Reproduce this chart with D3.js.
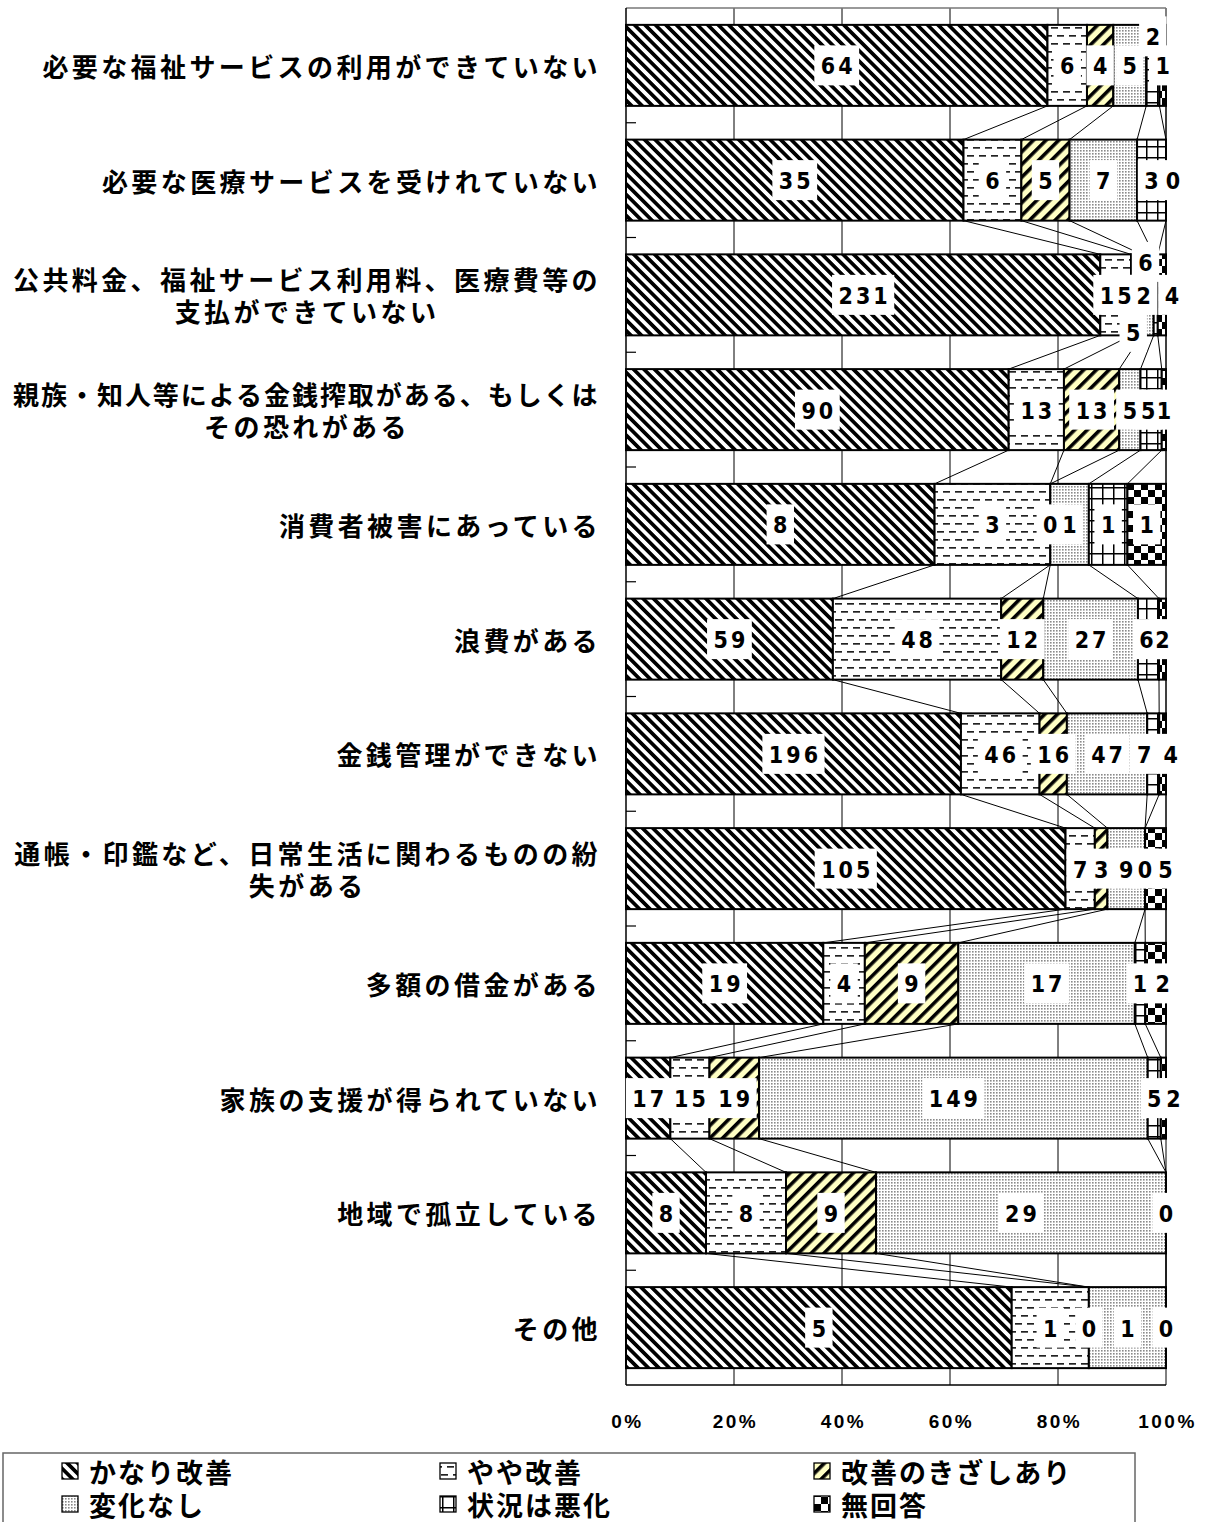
<!DOCTYPE html>
<html>
<head>
<meta charset="utf-8">
<script src="https://cdn.jsdelivr.net/npm/d3@7"></script>
<style>
	body { margin: 0; background: #fff; }
	svg { display: block; }
	.cat { font-family: "Noto Sans CJK JP", sans-serif; font-weight: 700; font-size: 26px; letter-spacing: 3.4px; }
	.val { font-family: "Liberation Sans Narrow", "DejaVu Sans Condensed", "Liberation Sans", sans-serif; font-weight: 700; font-size: 23px; letter-spacing: 3px; }
	.tick { font-family: "Liberation Sans Narrow", "Liberation Sans", sans-serif; font-weight: 700; font-size: 19px; letter-spacing: 2.5px; }
	.leg { font-family: "Noto Sans CJK JP", sans-serif; font-weight: 700; font-size: 27px; letter-spacing: 2px; }
</style>
</head>
<body>
<div id="chart"></div>
<script>

// categories (top -> bottom)
const categories = [
	['必要な福祉サービスの利用ができていない'],
	['必要な医療サービスを受けれていない'],
	['公共料金、福祉サービス利用料、医療費等の', '支払ができていない'],
	['親族・知人等による金銭搾取がある、もしくは', 'その恐れがある'],
	['消費者被害にあっている'],
	['浪費がある'],
	['金銭管理ができない'],
	['通帳・印鑑など、日常生活に関わるものの紛', '失がある'],
	['多額の借金がある'],
	['家族の支援が得られていない'],
	['地域で孤立している'],
	['その他']
];

const seriesNames = ['かなり改善', 'やや改善', '改善のきざしあり', '変化なし', '状況は悪化', '無回答'];

// counts per series
const kanariKaizen = [64, 35, 231, 90, 8, 59, 196, 105, 19, 17, 8, 5];
const yayaKaizen   = [6, 6, 15, 13, 3, 48, 46, 7, 4, 15, 8, 1];
const kizashi      = [4, 5, 5, 13, 0, 12, 16, 3, 9, 19, 9, 0];
const henkaNashi   = [5, 7, 6, 5, 1, 27, 47, 9, 17, 149, 29, 1];
const akka         = [2, 3, 2, 5, 1, 6, 7, 0, 1, 5, 0, 0];
const muKaitou     = [1, 0, 4, 1, 1, 2, 4, 5, 2, 2, null, null];

const xTickLabels = ['0%', '20%', '40%', '60%', '80%', '100%'];

// label nudges (row-series) where the original labels were moved apart
const labelNudge = {
	'0-4': [0, -29], '1-5': [7, 0], '2-2': [-3, 37], '2-3': [-2, -33], '2-4': [-12, 0], '2-5': [10, 0],
	'3-4': [-3, 0], '5-4': [-2, 0],
	'6-4': [-9, 0], '6-5': [8, 0], '7-5': [10, 0], '8-5': [7, 0], '9-5': [10, 0]
};

const seriesValues = [kanariKaizen, yayaKaizen, kizashi, henkaNashi, akka, muKaitou];

class StackedBars {

	constructor(element) {
		this.element = element;
		this.width = 1205;
		this.height = 1522;
		this.left = 626;
		this.right = 1166;
		this.top = 8;
		this.bottom = 1385;
		this.draw();
	}

	draw() {
		this.rows = categories.map((c, i) => {
			const vals = seriesValues.map(s => s[i]);
			const total = d3.sum(vals, v => v || 0);
			let acc = 0;
			const segs = vals.map((v, k) => {
				const x0 = acc / total;
				acc += (v || 0);
				return { row: i, k: k, v: v, x0: x0, x1: acc / total };
			});
			return { label: c, segs: segs };
		});

		this.svg = d3.select(this.element).append('svg')
			.attr('width', this.width)
			.attr('height', this.height);

		this.createPatterns();
		this.createScales();
		this.createGrid();
		this.createSeriesLines();
		this.createBars();
		this.createLabels();
		this.createLegend();
	}

	createPatterns() {
		const defs = this.svg.append('defs');

		// かなり改善 : back-slash stripes
		let p = defs.append('pattern').attr('id', 'pat0').attr('patternUnits', 'userSpaceOnUse')
			.attr('width', 7.4).attr('height', 7.4).attr('patternTransform', 'rotate(-45)');
		p.append('rect').attr('width', 7.4).attr('height', 7.4).attr('fill', '#fff');
		p.append('rect').attr('width', 3.7).attr('height', 7.4).attr('fill', '#000');

		// やや改善 : horizontal dashes
		p = defs.append('pattern').attr('id', 'pat1').attr('patternUnits', 'userSpaceOnUse')
			.attr('width', 12).attr('height', 16);
		p.append('rect').attr('width', 12).attr('height', 16).attr('fill', '#fff');
		p.append('rect').attr('x', 1).attr('y', 3).attr('width', 7).attr('height', 1.7).attr('fill', '#222');
		p.append('rect').attr('x', 7).attr('y', 11).attr('width', 7).attr('height', 1.7).attr('fill', '#222');
		p.append('rect').attr('x', -5).attr('y', 11).attr('width', 7).attr('height', 1.7).attr('fill', '#222');

		// 改善のきざしあり : yellow with slash stripes
		p = defs.append('pattern').attr('id', 'pat2').attr('patternUnits', 'userSpaceOnUse')
			.attr('width', 9).attr('height', 9).attr('patternTransform', 'rotate(45)');
		p.append('rect').attr('width', 9).attr('height', 9).attr('fill', '#ffffc4');
		p.append('rect').attr('width', 3.6).attr('height', 9).attr('fill', '#000');

		// 変化なし : fine grey dots
		p = defs.append('pattern').attr('id', 'pat3').attr('patternUnits', 'userSpaceOnUse')
			.attr('width', 3).attr('height', 3);
		p.append('rect').attr('width', 3).attr('height', 3).attr('fill', '#fff');
		p.append('rect').attr('width', 1.6).attr('height', 1.6).attr('fill', '#8a8a8a');

		// 状況は悪化 : grid
		p = defs.append('pattern').attr('id', 'pat4').attr('patternUnits', 'userSpaceOnUse')
			.attr('width', 11).attr('height', 11).attr('x', 2).attr('y', 3);
		p.append('rect').attr('width', 11).attr('height', 11).attr('fill', '#fff');
		p.append('rect').attr('width', 11).attr('height', 1.5).attr('fill', '#000');
		p.append('rect').attr('width', 1.5).attr('height', 11).attr('fill', '#000');

		// 無回答 : checkerboard
		p = defs.append('pattern').attr('id', 'pat5').attr('patternUnits', 'userSpaceOnUse')
			.attr('width', 14).attr('height', 14);
		p.append('rect').attr('width', 14).attr('height', 14).attr('fill', '#fff');
		p.append('rect').attr('width', 7).attr('height', 7).attr('fill', '#000');
		p.append('rect').attr('x', 7).attr('y', 7).attr('width', 7).attr('height', 7).attr('fill', '#000');
	}

	createScales() {
		this.xScale = d3.scaleLinear()
			.domain([0, 1])
			.range([this.left, this.right]);

		this.yScale = d3.scaleBand()
			.domain(d3.range(categories.length))
			.range([this.top, this.bottom])
			.paddingInner(0.294)
			.paddingOuter(0.147);
	}

	createGrid() {
		const g = this.svg.append('g');
		const ticks = d3.range(0, 1.0001, 0.2);

		g.selectAll('line.grid')
			.data(ticks.slice(1)).enter()
			.append('line')
				.attr('x1', d => this.xScale(d)).attr('x2', d => this.xScale(d))
				.attr('y1', this.top).attr('y2', this.bottom)
				.attr('stroke', '#000').attr('stroke-width', 1);

		// frame
		g.append('line').attr('x1', this.left).attr('x2', this.right)
			.attr('y1', this.top).attr('y2', this.top).attr('stroke', '#777').attr('stroke-width', 1.5);
		g.append('line').attr('x1', this.left).attr('x2', this.right)
			.attr('y1', this.bottom).attr('y2', this.bottom).attr('stroke', '#000').attr('stroke-width', 1.5);
		g.append('line').attr('x1', this.left).attr('x2', this.left)
			.attr('y1', this.top).attr('y2', this.bottom).attr('stroke', '#000').attr('stroke-width', 1.5);

		// inward category ticks
		const step = this.yScale.step();
		g.selectAll('line.ctick')
			.data(d3.range(1, categories.length)).enter()
			.append('line')
				.attr('x1', this.left).attr('x2', this.left + 10)
				.attr('y1', d => this.top + d * step).attr('y2', d => this.top + d * step)
				.attr('stroke', '#000').attr('stroke-width', 1.2);

		// x tick labels
		g.selectAll('text.tick')
			.data(ticks).enter()
			.append('text')
				.attr('class', 'tick')
				.attr('x', d => this.xScale(d) + 1.5)
				.attr('y', 1421)
				.attr('text-anchor', 'middle')
				.attr('dominant-baseline', 'central')
				.text((d, i) => xTickLabels[i]);
	}

	createSeriesLines() {
		const g = this.svg.append('g');
		const lines = [];
		for (let i = 0; i < this.rows.length - 1; i++) {
			for (let k = 0; k < seriesNames.length; k++) {
				const a = this.rows[i].segs[k], b = this.rows[i + 1].segs[k];
				if (a.v === null || b.v === null) continue;
				lines.push({ a: a.x1, b: b.x1, i: i });
			}
		}
		g.selectAll('line')
			.data(lines).enter()
			.append('line')
				.attr('x1', d => this.xScale(d.a))
				.attr('y1', d => this.yScale(d.i) + this.yScale.bandwidth())
				.attr('x2', d => this.xScale(d.b))
				.attr('y2', d => this.yScale(d.i + 1))
				.attr('stroke', '#000').attr('stroke-width', 1);
	}

	createBars() {
		const g = this.svg.append('g');
		const segs = this.rows.flatMap(r => r.segs).filter(s => s.v);
		g.selectAll('rect')
			.data(segs).enter()
			.append('rect')
				.attr('x', d => this.xScale(d.x0))
				.attr('y', d => this.yScale(d.row))
				.attr('width', d => this.xScale(d.x1) - this.xScale(d.x0))
				.attr('height', this.yScale.bandwidth())
				.attr('fill', d => `url(#pat${d.k})`)
				.attr('stroke', '#000').attr('stroke-width', 2);
	}

	labelPos(d) {
		const n = labelNudge[d.row + '-' + d.k] || [0, 0];
		return [
			this.xScale((d.x0 + d.x1) / 2) + n[0],
			this.yScale(d.row) + this.yScale.bandwidth() / 2 + n[1]
		];
	}

	createLabels() {
		const segs = this.rows.flatMap(r => r.segs).filter(s => s.v !== null);

		// boxes first, then all texts so that touching labels stay readable
		const boxes = this.svg.append('g');
		const texts = this.svg.append('g');

		texts.selectAll('text')
			.data(segs).enter()
			.append('text')
				.attr('class', 'val')
				.attr('x', d => this.labelPos(d)[0] + 1.5)
				.attr('y', d => this.labelPos(d)[1] + 1)
				.attr('text-anchor', 'middle')
				.attr('dominant-baseline', 'central')
				.text(d => d.v)
				.each((d, i, nodes) => { d.tw = nodes[i].getComputedTextLength(); });

		boxes.selectAll('rect')
			.data(segs).enter()
			.append('rect')
				.attr('fill', '#fff')
				.attr('x', d => this.labelPos(d)[0] - d.tw / 2 - 5)
				.attr('y', d => this.labelPos(d)[1] - 20)
				.attr('width', d => d.tw + 10)
				.attr('height', 40);

		// category labels
		const cat = this.svg.append('g');
		this.rows.forEach((r, i) => {
			const cy = this.yScale(i) + this.yScale.bandwidth() / 2;
			const lines = r.label;
			const tg = cat.append('g');
			const tx = lines.map((t, j) => tg.append('text')
				.attr('class', 'cat')
				.attr('y', cy + (j - (lines.length - 1) / 2) * 32)
				.attr('dominant-baseline', 'central')
				.text(t));
			tx.forEach(t => {
				const w = t.node().getComputedTextLength();
				if (w > 588) t.attr('textLength', 588).attr('lengthAdjust', 'spacing');
			});
			const widths = tx.map(t => Math.min(588, t.node().getComputedTextLength()));
			const maxW = d3.max(widths);
			const rightEdge = 601;
			tx.forEach(t => {
				if (lines.length === 1) {
					t.attr('x', rightEdge).attr('text-anchor', 'end');
				} else {
					t.attr('x', rightEdge - maxW / 2).attr('text-anchor', 'middle');
				}
			});
		});
	}

	createLegend() {
		const g = this.svg.append('g');
		g.append('rect')
			.attr('x', 3).attr('y', 1453)
			.attr('width', 1132).attr('height', 90)
			.attr('fill', '#fff').attr('stroke', '#666').attr('stroke-width', 1.5);

		const colX = [62, 440, 814];
		const rowY = [1471, 1504];

		const item = g.selectAll('g.item')
			.data(seriesNames).enter()
			.append('g')
				.attr('transform', (d, i) => `translate(${colX[i % 3]},${rowY[Math.floor(i / 3)]})`);

		item.append('rect')
			.attr('x', 0).attr('y', -8)
			.attr('width', 16).attr('height', 16)
			.attr('fill', (d, i) => `url(#pat${i})`)
			.attr('stroke', '#000').attr('stroke-width', 1.3);

		item.append('text')
			.attr('class', 'leg')
			.attr('x', 27)
			.attr('y', 0)
			.attr('dominant-baseline', 'central')
			.text(d => d);
	}
}

new StackedBars('#chart');
</script>
</body>
</html>
